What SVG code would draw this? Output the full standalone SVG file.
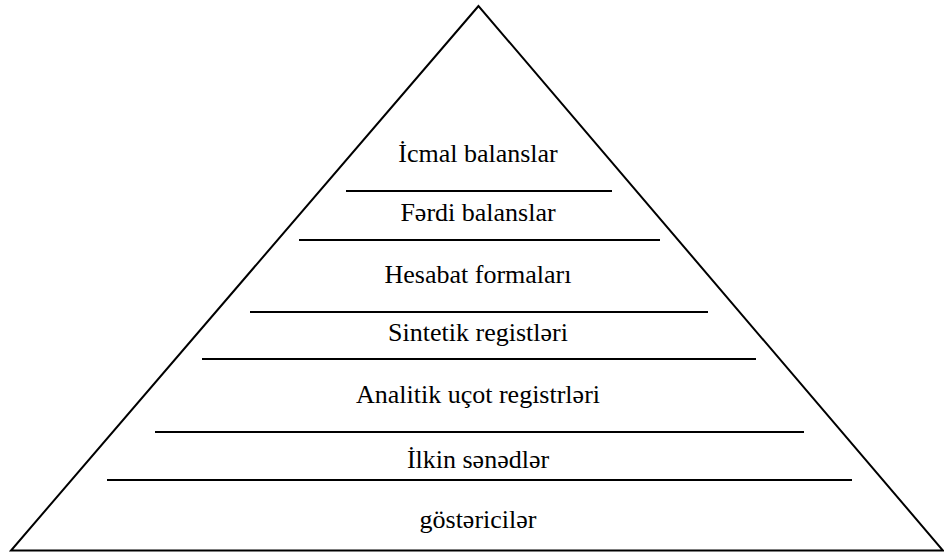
<svg xmlns="http://www.w3.org/2000/svg" width="944" height="553" viewBox="0 0 944 553">
<style>
.l{stroke:#000;stroke-width:2;fill:none}
text{font-family:'Liberation Serif','DejaVu Serif',serif;font-size:26px;fill:#000;text-anchor:middle}
</style>
<rect width="944" height="553" fill="#fff"/>
<g id="pyramid">
<polygon class="l" points="478.5,6 11,550.5 943,550.5"/>
</g>
<g id="dividers">
<line class="l" x1="346" y1="191" x2="612" y2="191"/>
<line class="l" x1="299" y1="240" x2="660" y2="240"/>
<line class="l" x1="250" y1="312" x2="708" y2="312"/>
<line class="l" x1="202" y1="359" x2="756" y2="359"/>
<line class="l" x1="155" y1="432" x2="804" y2="432"/>
<line class="l" x1="107" y1="480" x2="852" y2="480"/>
</g>
<g id="level1"><text x="478" y="162">İcmal balanslar</text></g>
<g id="level2"><text x="478" y="221">Fərdi balanslar</text></g>
<g id="level3"><text x="478" y="283">Hesabat formaları</text></g>
<g id="level4"><text x="478" y="341">Sintetik registləri</text></g>
<g id="level5"><text x="478" y="403">Analitik uçot registrləri</text></g>
<g id="level6"><text x="478" y="468">İlkin sənədlər</text></g>
<g id="level7"><text x="478" y="528">göstəricilər</text></g>
</svg>
